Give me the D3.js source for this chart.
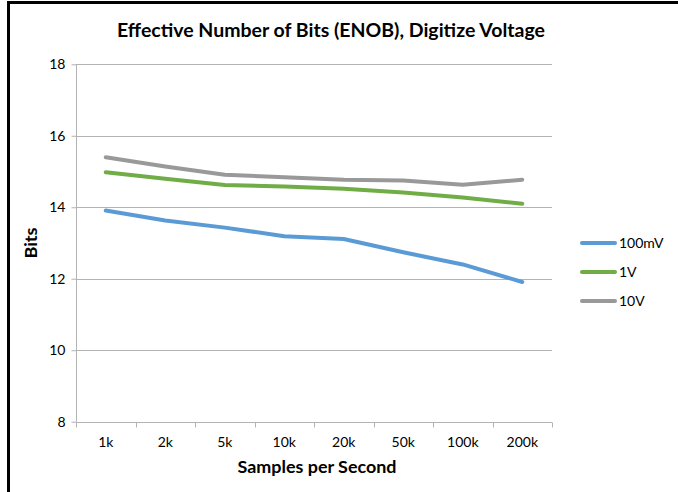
<!DOCTYPE html>
<html><head><meta charset="utf-8">
<script src="https://cdn.jsdelivr.net/npm/d3@7"></script>
<style>body{margin:0;background:#fff;}svg{display:block;font-family:Lato,"Open Sans",sans-serif;}</style>
</head><body>
<script>
const categories = ["1k","2k","5k","10k","20k","50k","100k","200k"];
const series100mV = [13.91,13.63,13.43,13.19,13.11,12.74,12.40,11.91];
const series1V = [14.98,14.80,14.62,14.58,14.52,14.41,14.27,14.10];
const series10V = [15.40,15.14,14.91,14.84,14.77,14.75,14.63,14.77];
const seriesNames = ["100mV","1V","10V"];
const seriesColors = ["#5b9bd5","#70ad47","#999999"];
const yTicks = [8,10,12,14,16,18];
const allSeries = [series100mV, series1V, series10V];

const W=678,H=492;
const svg=d3.select("body").append("svg").attr("width",W).attr("height",H);
svg.append("rect").attr("width",W).attr("height",H).attr("fill","#fff");
// frame
svg.append("path").attr("d","M8.5,"+H+" V2.5 H"+W).attr("fill","none").attr("stroke","#000").attr("stroke-width",3);

const x=d3.scaleBand().domain(categories).range([76,552]);
const y=d3.scaleLinear().domain([8,18]).range([421.7,64.3]);

// gridlines
svg.append("g").selectAll("line").data(yTicks.filter(t=>t>8)).join("line")
 .attr("x1",76).attr("x2",552).attr("y1",d=>Math.round(y(d))+0.5).attr("y2",d=>Math.round(y(d))+0.5)
 .attr("stroke","#b3b3b3").attr("stroke-width",1);

// y axis
const yAxis=svg.append("g").attr("transform","translate(76.5,0)")
 .call(d3.axisLeft(y).tickValues(yTicks).tickSize(5).tickPadding(6).tickFormat(d3.format("d")));
yAxis.select(".domain").attr("stroke","#b3b3b3").attr("d","M0,"+y(8)+"V"+y(18));
yAxis.selectAll(".tick line").attr("stroke","#b3b3b3");
yAxis.selectAll(".tick text").attr("font-size",14).attr("fill","#000").attr("font-family","Lato,sans-serif");

// x axis
const xAxis=svg.append("g").attr("transform","translate(0,"+(Math.round(y(8))+0.5)+")")
 .call(d3.axisBottom(x).tickSize(0).tickPadding(15));
xAxis.select(".domain").attr("stroke","#b3b3b3").attr("d","M76,0H552");
xAxis.selectAll(".tick text").attr("font-size",14).attr("fill","#000").attr("font-family","Lato,sans-serif");
// boundary ticks
xAxis.append("g").selectAll("line").data(categories.map((c,i)=>x(c)).concat([552])).join("line")
 .attr("x1",d=>Math.round(d)+0.5).attr("x2",d=>Math.round(d)+0.5).attr("y1",0).attr("y2",5)
 .attr("stroke","#b3b3b3");

// lines
const line=d3.line().x((d,i)=>x(categories[i])+x.bandwidth()/2).y(d=>y(d));
svg.append("g").selectAll("path").data(allSeries).join("path")
 .attr("d",line).attr("fill","none").attr("stroke",(d,i)=>seriesColors[i])
 .attr("stroke-width",4).attr("stroke-linecap","round").attr("stroke-linejoin","round");

// title
svg.append("text").attr("x",331).attr("y",37).attr("text-anchor","middle")
 .attr("font-size",19).attr("font-weight","bold").attr("textLength",428).attr("lengthAdjust","spacingAndGlyphs")
 .text("Effective Number of Bits (ENOB), Digitize Voltage");
svg.append("text").attr("x",317).attr("y",473).attr("text-anchor","middle")
 .attr("font-size",17).attr("font-weight","bold").attr("textLength",159).attr("lengthAdjust","spacingAndGlyphs")
 .text("Samples per Second");
svg.append("text").attr("transform","translate(37,243) rotate(-90)").attr("text-anchor","middle")
 .attr("font-size",17).attr("font-weight","bold").attr("textLength",31).attr("lengthAdjust","spacingAndGlyphs")
 .text("Bits");

// legend
const legY=[243,272,301];
const leg=svg.append("g").selectAll("g").data(seriesNames).join("g");
leg.append("line").attr("x1",582).attr("x2",615).attr("y1",(d,i)=>legY[i]).attr("y2",(d,i)=>legY[i])
 .attr("stroke",(d,i)=>seriesColors[i]).attr("stroke-width",4).attr("stroke-linecap","round");
leg.append("text").attr("x",619).attr("y",(d,i)=>legY[i]+5).attr("font-size",14).text(d=>d);
</script>
</body></html>
